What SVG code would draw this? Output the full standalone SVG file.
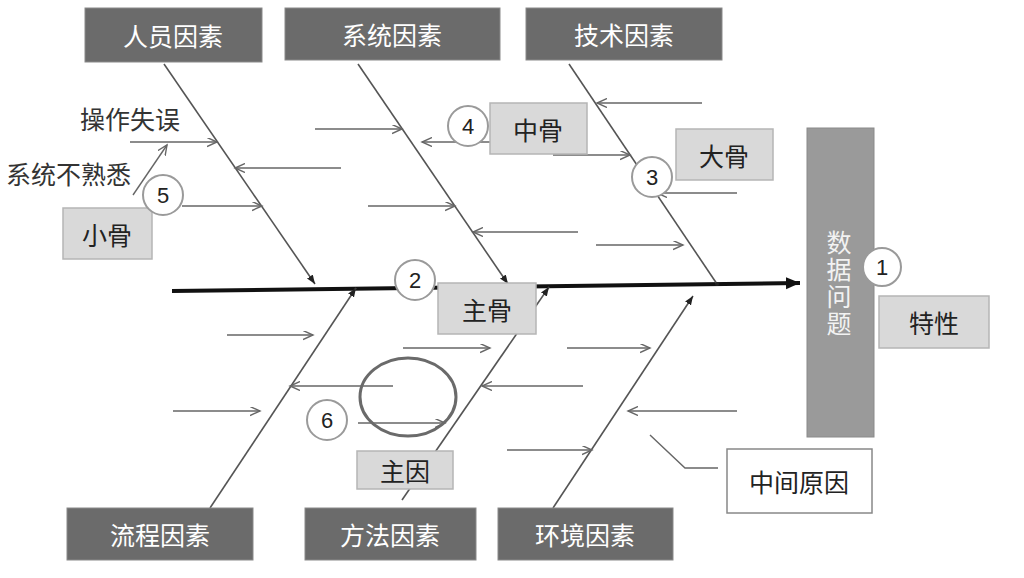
<svg xmlns="http://www.w3.org/2000/svg" width="1024" height="578" viewBox="0 0 1024 578">
<defs>
<style>
.cat{fill:#6b6b6b;stroke:#8a8a8a;stroke-width:1}
.cat-t{fill:#ffffff;font-family:"Noto Sans CJK SC",sans-serif;font-size:25px;text-anchor:middle;dominant-baseline:central}
.lbl{fill:#d9d9d9;stroke:#b5b5b5;stroke-width:1.5}
.lbl-t{fill:#222;font-family:"Noto Sans CJK SC",serif;font-size:25px;text-anchor:middle;dominant-baseline:central}
.num{fill:#fff;stroke:#9a9a9a;stroke-width:2}
.num-t{fill:#222;font-family:"Liberation Sans",sans-serif;font-size:22px;text-anchor:middle;dominant-baseline:central}
.bone{stroke:#555;stroke-width:1.6;fill:none}
.sub{stroke:#666;stroke-width:1.4;fill:none}
.free{fill:#333;font-family:"Noto Sans CJK SC",sans-serif;font-size:25px;dominant-baseline:central}
</style>
<marker id="open" markerUnits="userSpaceOnUse" markerWidth="12" markerHeight="10" refX="10" refY="4.5" orient="auto">
<path d="M0,0 L10,4.5 L0,9" fill="none" stroke="#666" stroke-width="1.4"/>
</marker>
<marker id="tri" markerUnits="userSpaceOnUse" markerWidth="10" markerHeight="8" refX="9" refY="3.5" orient="auto">
<path d="M0,0 L9,3.5 L0,7 z" fill="#222"/>
</marker>
<marker id="big" markerUnits="userSpaceOnUse" markerWidth="16" markerHeight="14" refX="14" refY="6" orient="auto">
<path d="M0,0 L14,6 L0,12 z" fill="#111"/>
</marker>
</defs>
<rect width="1024" height="578" fill="#ffffff"/>

<g id="connectors">
<line x1="172" y1="291" x2="800" y2="283" stroke="#111" stroke-width="4" marker-end="url(#big)"/>
<line class="bone" x1="164" y1="64" x2="315" y2="284" marker-end="url(#tri)"/>
<line class="bone" x1="358" y1="64" x2="508" y2="284" marker-end="url(#tri)"/>
<line class="bone" x1="569" y1="64" x2="717" y2="284"/>
<circle cx="717" cy="284" r="2" fill="#222"/>
<line class="bone" x1="210" y1="508" x2="356" y2="288" marker-end="url(#tri)"/>
<line class="bone" x1="402" y1="500" x2="549" y2="287" marker-end="url(#tri)"/>
<line class="bone" x1="553" y1="508" x2="693" y2="296" marker-end="url(#tri)"/>

<line class="sub" x1="130" y1="142" x2="217" y2="142" marker-end="url(#open)"/>
<line class="sub" x1="341" y1="168" x2="235" y2="168" marker-end="url(#open)"/>
<line class="sub" x1="182" y1="206" x2="262" y2="206" marker-end="url(#open)"/>
<line class="sub" x1="133" y1="195" x2="167" y2="145" marker-end="url(#open)"/>

<line class="sub" x1="315" y1="129" x2="402" y2="129" marker-end="url(#open)"/>
<line class="sub" x1="490" y1="142" x2="422" y2="142" marker-end="url(#open)"/>
<line class="sub" x1="368" y1="206" x2="455" y2="206" marker-end="url(#open)"/>
<line class="sub" x1="578" y1="232" x2="473" y2="232" marker-end="url(#open)"/>
<line class="sub" x1="596" y1="245" x2="683" y2="245" marker-end="url(#open)"/>
<line class="sub" x1="553" y1="155" x2="630" y2="155" marker-end="url(#open)"/>
<line class="sub" x1="702" y1="103" x2="597" y2="103" marker-end="url(#open)"/>
<line class="sub" x1="737" y1="193" x2="657" y2="193" marker-end="url(#open)"/>

<line class="sub" x1="227" y1="335" x2="313" y2="335" marker-end="url(#open)"/>
<line class="sub" x1="403" y1="348" x2="490" y2="348" marker-end="url(#open)"/>
<line class="sub" x1="393" y1="386" x2="290" y2="386" marker-end="url(#open)"/>
<line class="sub" x1="173" y1="411" x2="260" y2="411" marker-end="url(#open)"/>
<line class="sub" x1="358" y1="423" x2="445" y2="423" marker-end="url(#open)"/>
<line class="sub" x1="583" y1="386" x2="482" y2="386" marker-end="url(#open)"/>
<line class="sub" x1="507" y1="450" x2="592" y2="450" marker-end="url(#open)"/>
<line class="sub" x1="567" y1="348" x2="650" y2="348" marker-end="url(#open)"/>
<line class="sub" x1="737" y1="411" x2="628" y2="411" marker-end="url(#open)"/>

<polyline class="sub" points="650,435 685,468 718,468"/>
</g>

<g id="highlight">
<ellipse cx="408" cy="397" rx="48" ry="39" fill="none" stroke="#6a6a6a" stroke-width="3"/>
</g>

<g id="cat-people"><rect class="cat" x="85" y="8" width="177" height="54"/><text class="cat-t" x="173" y="35">人员因素</text></g>
<g id="cat-system"><rect class="cat" x="285" y="8" width="215" height="52"/><text class="cat-t" x="392" y="34">系统因素</text></g>
<g id="cat-tech"><rect class="cat" x="526" y="8" width="196" height="52"/><text class="cat-t" x="624" y="34">技术因素</text></g>
<g id="cat-process"><rect class="cat" x="67" y="508" width="186" height="52"/><text class="cat-t" x="160" y="534">流程因素</text></g>
<g id="cat-method"><rect class="cat" x="305" y="508" width="171" height="52"/><text class="cat-t" x="390" y="534">方法因素</text></g>
<g id="cat-env"><rect class="cat" x="498" y="508" width="175" height="52"/><text class="cat-t" x="585" y="534">环境因素</text></g>

<g id="problem">
<rect x="807" y="128" width="67" height="309" fill="#9a9a9a" stroke="#8a8a8a" stroke-width="1"/>
<text x="839" y="230" fill="#f2f2f2" font-family="Noto Sans CJK SC,sans-serif" font-size="25" writing-mode="vertical-rl" letter-spacing="2">数据问题</text>
</g>

<g id="label-trait"><rect class="lbl" x="879" y="296" width="110" height="52"/><text class="lbl-t" x="934" y="322">特性</text></g>
<g id="label-mid-cause"><rect x="727" y="449" width="145" height="64" fill="#fff" stroke="#888" stroke-width="1.5"/><text class="lbl-t" x="799" y="481">中间原因</text></g>
<g id="label-small"><rect class="lbl" x="63" y="208" width="89" height="51"/><text class="lbl-t" x="107" y="234">小骨</text></g>
<g id="label-mid"><rect class="lbl" x="490" y="103" width="97" height="51"/><text class="lbl-t" x="538" y="129">中骨</text></g>
<g id="label-big"><rect class="lbl" x="676" y="129" width="97" height="51"/><text class="lbl-t" x="724" y="155">大骨</text></g>
<g id="label-main"><rect class="lbl" x="438" y="283" width="98" height="51"/><text class="lbl-t" x="487" y="309">主骨</text></g>
<g id="label-main-cause"><rect class="lbl" x="357" y="451" width="96" height="38"/><text class="lbl-t" x="405" y="470">主因</text></g>

<g id="num-1"><circle class="num" cx="882" cy="267" r="19"/><text class="num-t" x="882" y="267">1</text></g>
<g id="num-2"><circle class="num" cx="415" cy="280" r="20"/><text class="num-t" x="415" y="280">2</text></g>
<g id="num-3"><circle class="num" cx="652" cy="177" r="20"/><text class="num-t" x="652" y="177">3</text></g>
<g id="num-4"><circle class="num" cx="468" cy="126" r="20"/><text class="num-t" x="468" y="126">4</text></g>
<g id="num-5"><circle class="num" cx="163" cy="195" r="20"/><text class="num-t" x="163" y="195">5</text></g>
<g id="num-6"><circle class="num" cx="327" cy="420" r="20"/><text class="num-t" x="327" y="420">6</text></g>

<g id="texts">
<text class="free" x="80" y="118">操作失误</text>
<text class="free" x="6" y="173">系统不熟悉</text>
</g>
</svg>
